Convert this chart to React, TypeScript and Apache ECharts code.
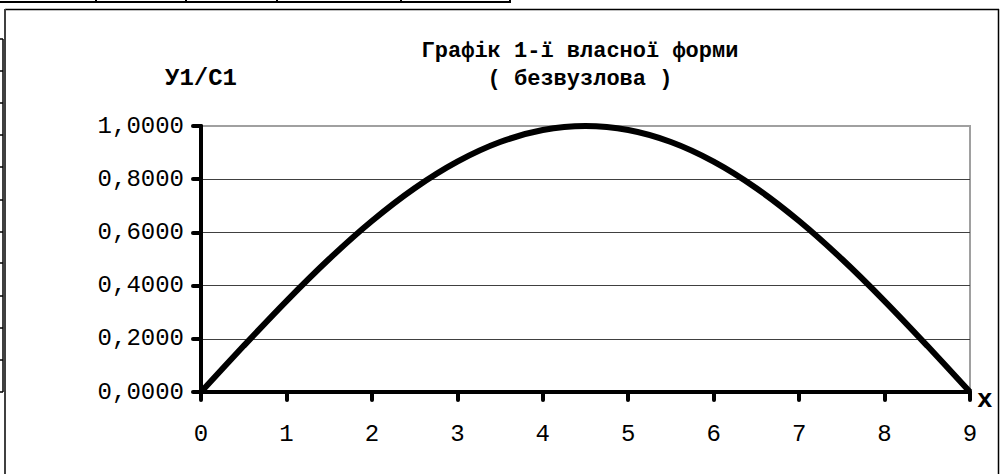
import React, { useEffect, useRef } from "react";
import * as echarts from "echarts";

const xValues = [0, 0.5, 1, 1.5, 2, 2.5, 3, 3.5, 4, 4.5, 5, 5.5, 6, 6.5, 7, 7.5, 8, 8.5, 9];
const yValues = [0, 0.1736, 0.342, 0.5, 0.6428, 0.766, 0.866, 0.9397, 0.9848, 1.0, 0.9848, 0.9397, 0.866, 0.766, 0.6428, 0.5, 0.342, 0.1736, 0];
const titleLines = ["Графік 1-ї власної форми", "( безвузлова )"];
const yAxisName = "У1/С1";
const xAxisName = "x";
const topTableTicks = [96, 186, 277, 401, 510];
const leftTableRows = [39, 71, 103, 135, 167, 200, 232, 263, 296, 328, 360, 392];

const MONO = "'Liberation Mono', 'Courier New', monospace";

export default function App() {
  const ref = useRef<HTMLDivElement>(null);
  useEffect(() => {
    if (!ref.current) return;
    const chart = echarts.init(ref.current, null, { renderer: "svg" });
    const graphics: any[] = [];
    // top table fragment
    graphics.push({ type: "line", shape: { x1: 0, y1: 2, x2: 511, y2: 2 }, style: { stroke: "#000", lineWidth: 2 } });
    topTableTicks.forEach((x) =>
      graphics.push({ type: "line", shape: { x1: x, y1: 0, x2: x, y2: 3 }, style: { stroke: "#000", lineWidth: 2 } })
    );
    // left table fragment
    graphics.push({ type: "line", shape: { x1: 3, y1: 39, x2: 3, y2: 392 }, style: { stroke: "#000", lineWidth: 1.5 } });
    leftTableRows.forEach((y) =>
      graphics.push({ type: "line", shape: { x1: 0, y1: y, x2: 3, y2: y }, style: { stroke: "#000", lineWidth: 1.5 } })
    );
    // chart frame
    graphics.push({ type: "line", shape: { x1: 5, y1: 9.5, x2: 999, y2: 9.5 }, style: { stroke: "#000", lineWidth: 1.5 } });
    graphics.push({ type: "line", shape: { x1: 5, y1: 9, x2: 5, y2: 474 }, style: { stroke: "#404040", lineWidth: 2 } });
    graphics.push({ type: "line", shape: { x1: 998.5, y1: 9, x2: 998.5, y2: 474 }, style: { stroke: "#000", lineWidth: 1.5 } });
    // x axis name
    graphics.push({
      type: "text",
      x: 977,
      y: 400,
      style: {
        text: xAxisName,
        fontFamily: MONO,
        fontWeight: "bold",
        fontSize: 26,
        fill: "#000",
        verticalAlign: "middle",
        align: "left",
      },
    });

    chart.setOption({
      animation: false,
      backgroundColor: "#fff",
      title: {
        text: titleLines.join("\n"),
        left: 580,
        top: 37,
        textAlign: "center",
        padding: 0,
        textStyle: { fontFamily: MONO, fontWeight: "bold", fontSize: 22, lineHeight: 28, color: "#000" },
      },
      grid: {
        left: 201,
        right: 30,
        top: 126,
        bottom: 82,
        show: true,
        borderColor: "#a0a0a0",
        borderWidth: 2,
        containLabel: false,
        outerBoundsMode: "none",
      },
      xAxis: {
        type: "value",
        min: 0,
        max: 9,
        interval: 1,
        axisLine: { show: true, onZero: false, lineStyle: { color: "#000", width: 4 } },
        axisTick: { show: true, inside: false, length: 8, lineStyle: { color: "#000", width: 4, cap: "round" } },
        axisLabel: { fontFamily: MONO, fontSize: 24, color: "#000", margin: 30 },
        splitLine: { show: false },
      },
      yAxis: {
        type: "value",
        min: 0,
        max: 1,
        interval: 0.2,
        name: yAxisName,
        nameLocation: "end",
        nameGap: 36,
        nameTextStyle: { fontFamily: MONO, fontWeight: "bold", fontSize: 24, color: "#000" },
        axisLine: { show: true, lineStyle: { color: "#000", width: 4 } },
        axisTick: { show: true, inside: false, length: 8, lineStyle: { color: "#000", width: 4, cap: "round" } },
        axisLabel: {
          fontFamily: MONO,
          fontSize: 24,
          color: "#000",
          margin: 17,
          formatter: (v: number) => v.toFixed(4).replace(".", ","),
        },
        splitLine: { show: true, showMaxLine: false, lineStyle: { color: "#404040", width: 1 } },
      },
      series: [
        {
          type: "line",
          data: xValues.map((x, i) => [x, yValues[i]]),
          showSymbol: false,
          smooth: 0.3,
          lineStyle: { color: "#000", width: 6 },
          clip: false,
        },
      ],
      graphic: graphics,
    });
    return () => chart.dispose();
  }, []);
  return <div ref={ref} style={{ position: "fixed", left: 0, top: 0, width: 1000, height: 474, background: "#fff" }} />;
}
